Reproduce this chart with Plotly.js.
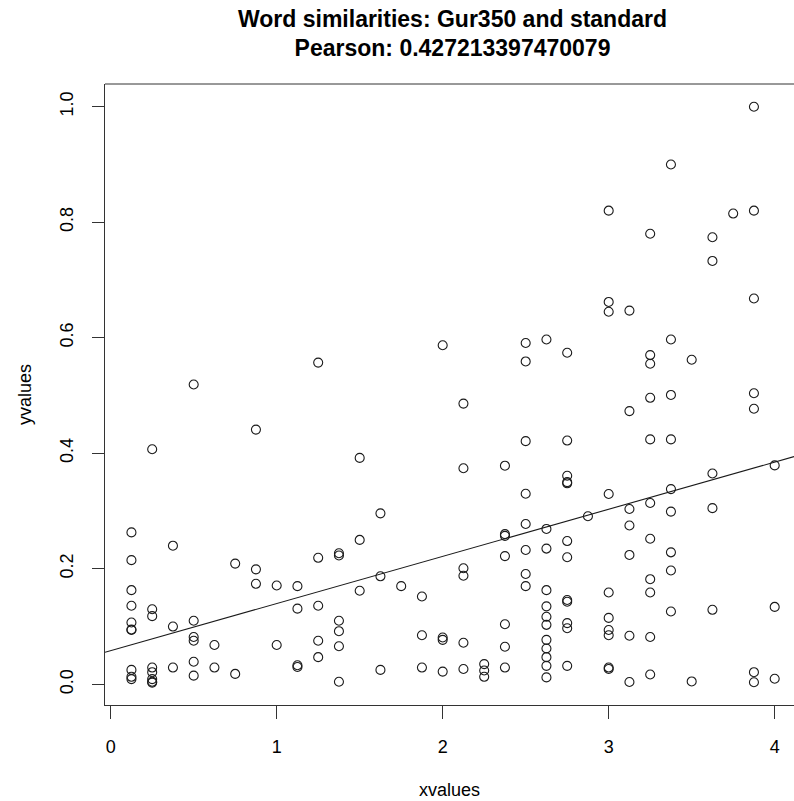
<!DOCTYPE html>
<html>
<head>
<meta charset="utf-8">
<script src="https://cdn.plot.ly/plotly-3.0.1.min.js"></script>
<style>
  html, body { margin: 0; padding: 0; background: #fff; overflow: hidden; }
  #chart { width: 794px; height: 801px; }
</style>
</head>
<body>
<div id="chart"></div>
<script>
// ---- data ----
const xvalues = [
  0.125,0.125,0.125,0.125,0.125,0.125,0.125,0.125,0.125,0.125,
  0.25,0.25,0.25,0.25,0.25,0.25,0.25,0.25,
  0.375,0.375,0.375,
  0.5,0.5,0.5,0.5,0.5,0.5,
  0.625,0.625,
  0.75,0.75,
  0.875,0.875,0.875,
  1.0,1.0,
  1.125,1.125,1.125,1.125,
  1.25,1.25,1.25,1.25,1.25,
  1.375,1.375,1.375,1.375,1.375,1.375,
  1.5,1.5,1.5,
  1.625,1.625,1.625,
  1.75,
  1.875,1.875,1.875,
  2.0,2.0,2.0,2.0,
  2.125,2.125,2.125,2.125,2.125,2.125,
  2.25,2.25,2.25,
  2.375,2.375,2.375,2.375,2.375,2.375,2.375,
  2.5,2.5,2.5,2.5,2.5,2.5,2.5,2.5,
  2.625,2.625,2.625,2.625,2.625,2.625,2.625,2.625,2.625,2.625,2.625,2.625,
  2.75,2.75,2.75,2.75,2.75,2.75,2.75,2.75,2.75,2.75,2.75,2.75,
  2.875,
  3.0,3.0,3.0,3.0,3.0,3.0,3.0,3.0,3.0,3.0,
  3.125,3.125,3.125,3.125,3.125,3.125,3.125,
  3.25,3.25,3.25,3.25,3.25,3.25,3.25,3.25,3.25,3.25,3.25,
  3.375,3.375,3.375,3.375,3.375,3.375,3.375,3.375,3.375,
  3.5,3.5,
  3.625,3.625,3.625,3.625,3.625,
  3.75,
  3.875,3.875,3.875,3.875,3.875,3.875,3.875,
  4.0,4.0,4.0
];
const yvalues = [
  0.263,0.215,0.163,0.136,0.107,0.095,0.094,0.025,0.013,0.009,
  0.407,0.130,0.118,0.029,0.021,0.009,0.0045,0.003,
  0.240,0.100,0.029,
  0.519,0.110,0.082,0.0755,0.039,0.015,
  0.068,0.029,
  0.209,0.018,
  0.441,0.199,0.174,
  0.171,0.068,
  0.170,0.131,0.033,0.030,
  0.557,0.219,0.136,0.0755,0.047,
  0.227,0.223,0.110,0.092,0.066,0.0045,
  0.392,0.250,0.162,
  0.296,0.187,0.025,
  0.170,
  0.152,0.085,0.029,
  0.587,0.081,0.077,0.022,
  0.486,0.374,0.201,0.188,0.072,0.0265,
  0.035,0.024,0.013,
  0.3785,0.260,0.257,0.222,0.104,0.065,0.029,
  0.591,0.559,0.421,0.330,0.2775,0.2325,0.191,0.170,
  0.597,0.269,0.235,0.163,0.135,0.117,0.103,0.077,0.062,0.047,0.032,0.012,
  0.574,0.422,0.361,0.350,0.348,0.248,0.220,0.146,0.143,0.106,0.097,0.032,
  0.291,
  0.820,0.662,0.645,0.3295,0.159,0.115,0.094,0.085,0.029,0.0265,
  0.647,0.473,0.3035,0.275,0.224,0.084,0.004,
  0.780,0.570,0.555,0.496,0.424,0.314,0.252,0.182,0.159,0.082,0.017,
  0.900,0.597,0.501,0.424,0.338,0.299,0.2285,0.197,0.126,
  0.562,0.005,
  0.774,0.733,0.365,0.305,0.129,
  0.815,
  1.0,0.820,0.668,0.504,0.477,0.021,0.0035,
  0.379,0.134,0.0097
];
const titleLines = ["Word similarities: Gur350 and standard", "Pearson: 0.427213397470079"];
const xTickVals = [0, 1, 2, 3, 4];
const yTickVals = [0.0, 0.2, 0.4, 0.6, 0.8, 1.0];
const yTickText = ["0.0", "0.2", "0.4", "0.6", "0.8", "1.0"];

// ---- least-squares fit (abline(lm(y ~ x))) ----
const n = xvalues.length;
const mx = xvalues.reduce((a, b) => a + b, 0) / n;
const my = yvalues.reduce((a, b) => a + b, 0) / n;
let sxy = 0, sxx = 0;
for (let i = 0; i < n; i++) {
  sxy += (xvalues[i] - mx) * (yvalues[i] - my);
  sxx += (xvalues[i] - mx) * (xvalues[i] - mx);
}
const slope = sxy / sxx;
const intercept = my - slope * mx;

const xRange = [-0.0343, 4.1163];
const yRange = [-0.0358, 1.0393];
const fitX = xRange.slice();
const fitY = fitX.map(v => intercept + slope * v);

const FONT = "Liberation Sans, Arial, Helvetica, sans-serif";
const INK = "#1a1a1a";

const traces = [
  {
    type: "scatter", mode: "markers",
    x: xvalues, y: yvalues,
    marker: { symbol: "circle-open", size: 9, color: INK, line: { width: 1.1, color: INK } },
    hoverinfo: "x+y", showlegend: false, cliponaxis: true
  },
  {
    type: "scatter", mode: "lines",
    x: fitX, y: fitY,
    line: { color: INK, width: 1.1 },
    hoverinfo: "skip", showlegend: false
  }
];

const layout = {
  width: 794, height: 801,
  paper_bgcolor: "#ffffff", plot_bgcolor: "#ffffff",
  margin: { l: 105, r: 0, t: 84, b: 96, pad: 0 },
  font: { family: FONT, color: "#000", size: 18 },
  showlegend: false,
  title: {
    text: titleLines.join("<br>"),
    font: { family: FONT, size: 23, color: "#000", weight: "bold" },
    xref: "container", x: 452.5 / 794, xanchor: "center",
    yref: "container", y: 1 - 26.5 / 801, yanchor: "middle"
  },
  xaxis: {
    range: xRange, autorange: false,
    tickmode: "array", tickvals: xTickVals,
    ticks: "outside", ticklen: 13, tickwidth: 1, tickcolor: "#333",
    showline: true, linecolor: "#333", linewidth: 1, mirror: false,
    showgrid: false, zeroline: false,
    tickfont: { family: FONT, size: 18, color: "#000" },
    ticklabelstandoff: 12,
    title: { text: "xvalues", font: { family: FONT, size: 18, color: "#000" }, standoff: 27 }
  },
  yaxis: {
    range: yRange, autorange: false,
    tickmode: "array", tickvals: yTickVals, ticktext: yTickText,
    tickangle: -90,
    ticks: "outside", ticklen: 12, tickwidth: 1, tickcolor: "#333",
    showline: true, linecolor: "#333", linewidth: 1, mirror: false,
    showgrid: false, zeroline: false,
    tickfont: { family: FONT, size: 18, color: "#000" },
    ticklabelstandoff: 12,
    title: { text: "yvalues", font: { family: FONT, size: 18, color: "#000" }, standoff: 20 }
  },
  shapes: [
    { type: "line", xref: "paper", yref: "paper", x0: 0, x1: 1, y0: 1, y1: 1,
      line: { color: "#333", width: 1 } }
  ]
};

Plotly.newPlot("chart", traces, layout, { staticPlot: true, displayModeBar: false });
</script>
</body>
</html>
